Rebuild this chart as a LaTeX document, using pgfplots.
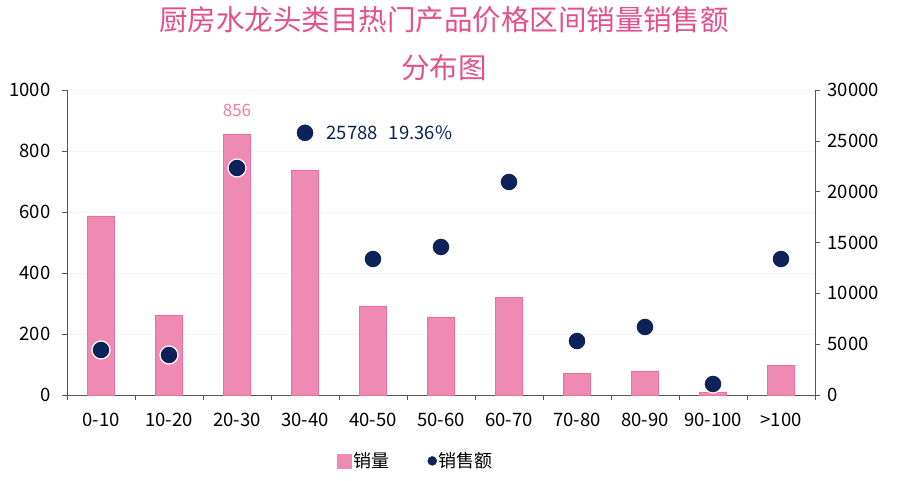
\documentclass[border=0pt]{standalone}
\usepackage{fontspec}
\setmainfont{Noto Sans CJK SC}
\usepackage{pgfplots}
\pgfplotsset{compat=1.18}
\definecolor{barpink}{RGB}{239,139,179}
\definecolor{baredge}{RGB}{232,112,158}
\definecolor{navy}{RGB}{12,34,88}
\definecolor{titlepink}{RGB}{228,80,138}
\definecolor{axgray}{RGB}{85,85,85}
\begin{document}
\begin{tikzpicture}[x=1pt,y=1pt]
\path[use as bounding box] (0,0) rectangle (900,480);
\node[text=titlepink, font=\fontsize{28.5}{32}\selectfont] at (444,460) {厨房水龙头类目热门产品价格区间销量销售额};
\node[text=titlepink, font=\fontsize{28.5}{32}\selectfont] at (444,412) {分布图};
\begin{axis}[
  at={(67pt,85pt)}, anchor=south west,
  width=748pt, height=305pt, scale only axis,
  xmin=-0.5, xmax=10.5, ymin=0, ymax=1000,
  axis y line*=left, axis x line*=bottom,
  axis line style={axgray, line width=0.8pt},
  xtick={0,...,10},
  xticklabels={0-10,10-20,20-30,30-40,40-50,50-60,60-70,70-80,80-90,90-100,>100},
  major x tick style={draw=none},
  minor xtick={-0.5,0.5,...,10.5},
  minor x tick style={axgray, line width=0.6pt},
  minor tick length=5pt,
  ytick={0,200,...,1000},
  tick align=outside,
  major tick length=5pt,
  y tick style={axgray, line width=0.6pt},
  ymajorgrids, grid style={gray!8, line width=0.6pt},
  ticklabel style={font=\fontsize{18.5}{22}\selectfont, text=black},
  xticklabel style={yshift=-10pt},
  yticklabel style={xshift=-8pt},
  /pgf/number format/assume math mode=true,
  /pgf/number format/1000 sep={},
  legend style={at={(0.4666,-0.216)}, anchor=center, draw=none, fill=none,
    legend columns=2, font=\fontsize{18}{22}\selectfont,
    /tikz/every even column/.append style={column sep=36pt}},
  legend cell align=left,
]
\addplot[ybar, bar width=27pt, fill=barpink, draw=baredge, line width=0.5pt,
  legend image code/.code={\fill[barpink] (0pt,-7pt) rectangle (14pt,7pt);}]
  coordinates {(0,587) (1,262) (2,856) (3,738) (4,292) (5,256) (6,321) (7,72) (8,79) (9,10) (10,98)};
\addlegendentry{销量}
\addlegendimage{only marks, mark=*, mark size=4.5pt, mark options={fill=navy, draw=navy}}
\addlegendentry{销售额}
\node[text=barpink!90!red, font=\fontsize{17}{20}\selectfont, anchor=south] at ([yshift=14pt]axis cs:2,856) {856};
\end{axis}
\begin{axis}[
  at={(67pt,85pt)}, anchor=south west,
  width=748pt, height=305pt, scale only axis,
  xmin=-0.5, xmax=10.5, ymin=0, ymax=30000,
  axis y line*=right, axis x line=none,
  axis line style={axgray, line width=0.8pt},
  ytick={0,5000,...,30000},
  tick align=outside, major tick length=5pt,
  y tick style={axgray, line width=0.6pt},
  ticklabel style={font=\fontsize{18.5}{22}\selectfont, text=black},
  yticklabel style={xshift=4pt},
  /pgf/number format/assume math mode=true,
  /pgf/number format/1000 sep={},
  scaled y ticks=false,
]
\addplot[only marks, mark=*, mark size=9pt, mark options={fill=navy, draw=white, line width=1.2pt}]
  coordinates {(0,4426) (1,3934) (2,22328) (3,25788) (4,13377) (5,14557) (6,20951) (7,5311) (8,6689) (9,1082) (10,13377)};
\node[text=navy, font=\fontsize{18.5}{22}\selectfont, anchor=west] at ([xshift=18pt]axis cs:3,25788) {25788\hspace{0.6em}19.36\%};
\end{axis}
\end{tikzpicture}
\end{document}
